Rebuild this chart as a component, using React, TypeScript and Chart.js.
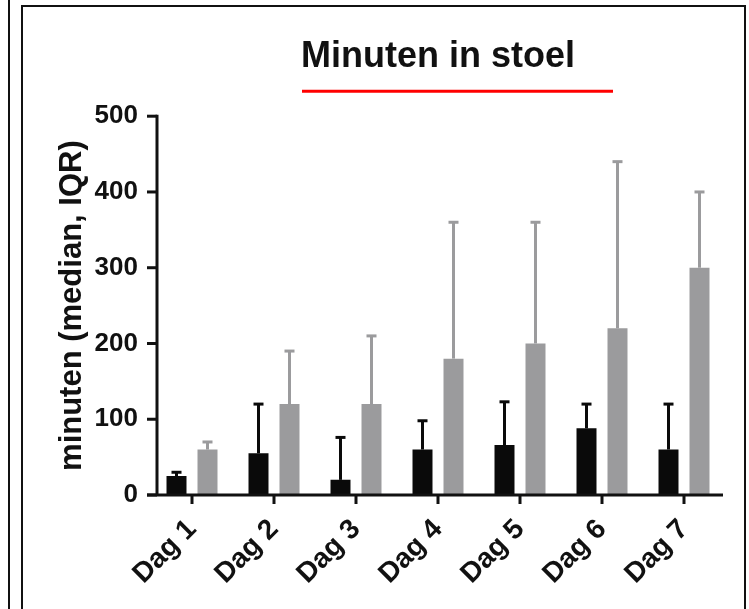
import React, { useEffect, useRef } from "react";
import { Chart, registerables } from "chart.js";

Chart.register(...registerables);

const categories = ["Dag 1", "Dag 2", "Dag 3", "Dag 4", "Dag 5", "Dag 6", "Dag 7"];
const blackMedian = [25, 55, 20, 60, 66, 88, 60];
const blackUpper = [30, 120, 76, 98, 123, 120, 120];
const grayMedian = [60, 120, 120, 180, 200, 220, 300];
const grayUpper = [70, 190, 210, 360, 360, 440, 400];
const yMin = 0;
const yMax = 500;
const yStep = 100;

const BLACK = "#0a0a0a";
const GRAY = "#9b9b9d";
const FONT = "'Liberation Sans', Arial, Helvetica, sans-serif";

const uppers = [blackUpper, grayUpper];

const customPlugin = {
  id: "customDecor",
  afterDatasetsDraw(chart: any) {
    const ctx = chart.ctx;
    const { left, right, top, bottom } = chart.chartArea;
    const ys = chart.scales.y;
    const xs = chart.scales.x;

    // error bars (upper whisker only)
    chart.data.datasets.forEach((ds: any, i: number) => {
      const meta = chart.getDatasetMeta(i);
      ctx.save();
      ctx.strokeStyle = ds.backgroundColor;
      ctx.lineWidth = 3;
      ctx.lineCap = "butt";
      meta.data.forEach((bar: any, j: number) => {
        const yu = ys.getPixelForValue(uppers[i][j]);
        ctx.beginPath();
        ctx.moveTo(bar.x, bar.y);
        ctx.lineTo(bar.x, yu);
        ctx.stroke();
        ctx.beginPath();
        ctx.moveTo(bar.x - 5, yu);
        ctx.lineTo(bar.x + 5, yu);
        ctx.stroke();
      });
      ctx.restore();
    });

    // axes
    const ax = left + 6;
    ctx.save();
    ctx.strokeStyle = "#111";
    ctx.lineWidth = 3;
    ctx.beginPath();
    ctx.moveTo(ax, ys.getPixelForValue(yMax) - 1.5);
    ctx.lineTo(ax, bottom);
    ctx.stroke();
    ys.ticks.forEach((t: any) => {
      const py = ys.getPixelForValue(t.value);
      ctx.beginPath();
      ctx.moveTo(ax - 10, py);
      ctx.lineTo(ax, py);
      ctx.stroke();
    });
    ctx.beginPath();
    ctx.moveTo(left - 4, bottom);
    ctx.lineTo(right - 2, bottom);
    ctx.stroke();
    categories.forEach((_, i) => {
      const px = xs.getPixelForValue(i);
      ctx.beginPath();
      ctx.moveTo(px, bottom);
      ctx.lineTo(px, bottom + 9);
      ctx.stroke();
    });
    ctx.restore();

    // red underline under title
    ctx.save();
    ctx.strokeStyle = "#ff0000";
    ctx.lineWidth = 3;
    ctx.beginPath();
    ctx.moveTo(left + 151, top - 25);
    ctx.lineTo(left + 462, top - 25);
    ctx.stroke();
    ctx.restore();
  },
};

export default function App() {
  const canvasRef = useRef<HTMLCanvasElement | null>(null);

  useEffect(() => {
    if (!canvasRef.current) return;
    const chart = new Chart(canvasRef.current, {
      type: "bar",
      data: {
        labels: categories,
        datasets: [
          {
            label: "A",
            data: blackMedian,
            backgroundColor: BLACK,
            borderWidth: 0,
            categoryPercentage: 0.756,
            barPercentage: 0.645,
          },
          {
            label: "B",
            data: grayMedian,
            backgroundColor: GRAY,
            borderWidth: 0,
            categoryPercentage: 0.756,
            barPercentage: 0.645,
          },
        ],
      },
      options: {
        animation: false,
        responsive: false,
        events: [],
        layout: { padding: { left: 40, right: 24, top: 0, bottom: 0 } },
        plugins: {
          legend: { display: false },
          tooltip: { enabled: false },
          title: {
            display: true,
            text: "Minuten in stoel",
            fullSize: false,
            color: "#111",
            font: { family: FONT, size: 36, weight: "bold" },
            padding: { top: 35, bottom: 38 },
          },
        },
        scales: {
          x: {
            grid: { display: false, drawTicks: false },
            border: { display: false },
            ticks: {
              autoSkip: false,
              minRotation: 45,
              maxRotation: 45,
              color: "#111",
              padding: 18,
              font: { family: FONT, size: 28, weight: "bold" },
            },
            afterFit: (scale: any) => {
              scale.height = 114;
            },
          },
          y: {
            min: yMin,
            max: yMax,
            grid: { display: false, drawTicks: false },
            border: { display: false },
            ticks: {
              stepSize: yStep,
              color: "#111",
              padding: 13,
              font: { family: FONT, size: 26, weight: "bold" },
            },
            title: {
              display: true,
              text: "minuten (median, IQR)",
              color: "#111",
              font: { family: FONT, size: 31, weight: "bold" },
              padding: { top: 14, bottom: 0 },
            },
            afterFit: (scale: any) => {
              scale.width = 111;
            },
          },
        },
      },
      plugins: [customPlugin],
    });
    return () => chart.destroy();
  }, []);

  return (
    <div
      style={{
        position: "fixed",
        left: 0,
        top: 0,
        width: 749,
        height: 609,
        overflow: "hidden",
        background: "#fff",
      }}
    >
      <div
        style={{
          position: "absolute",
          left: 8,
          top: 0,
          width: 2,
          height: 609,
          background: "#111",
        }}
      />
      <div
        style={{
          position: "absolute",
          left: 21,
          top: 5,
          width: 725,
          height: 620,
          border: "2px solid #111",
          boxSizing: "border-box",
        }}
      />
      <canvas
        ref={canvasRef}
        width={749}
        height={609}
        style={{ position: "absolute", left: 0, top: 0, width: 749, height: 609 }}
      />
    </div>
  );
}
